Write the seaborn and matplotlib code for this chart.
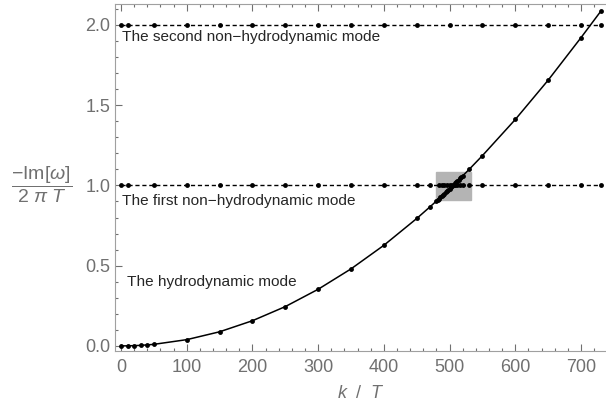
# Modos cuasinormales: -Im[w]/(2 pi T) frente a k/T
import pandas as pd
import seaborn as sns
import matplotlib.pyplot as plt
from matplotlib.patches import Rectangle

# Modo hidrodinamico
k_hydro = [0, 10, 20, 30, 40, 50, 100, 150, 200, 250, 300, 350, 400, 450, 470,
           480, 482, 484, 486, 488, 490, 492, 494, 496, 498, 500,
           502, 504, 506, 508, 510, 512, 514, 516, 518, 520,
           530, 550, 600, 650, 700, 730]
w_hydro = [0.0, 0.0004, 0.0016, 0.0035, 0.0063, 0.0098, 0.039, 0.088, 0.157, 0.245,
           0.353, 0.480, 0.627, 0.794, 0.866,
           0.903, 0.911, 0.918, 0.926, 0.933, 0.941, 0.949, 0.957, 0.964, 0.972, 0.980,
           0.988, 0.996, 1.004, 1.012, 1.020, 1.028, 1.036, 1.044, 1.052, 1.060,
           1.101, 1.186, 1.411, 1.656, 1.921, 2.085]

# Primer modo no hidrodinamico
k_first = [0, 10, 50, 100, 150, 200, 250, 300, 350, 400, 450, 470,
           484, 488, 492, 496, 500, 504, 508, 512, 516, 520,
           530, 550, 600, 650, 700, 730]
w_first = [1.0, 1.0, 1.0, 1.0, 1.0, 1.0, 1.0, 1.0, 1.0, 1.0, 1.0, 1.0,
           1.0, 1.0, 1.0, 1.0, 1.0, 1.0, 1.0, 1.0, 1.0, 1.0,
           1.0, 1.0, 1.0, 1.0, 1.0, 1.0]

# Segundo modo no hidrodinamico
k_second = [0, 10, 50, 100, 150, 200, 250, 300, 350, 400, 450, 500,
            550, 600, 650, 700, 730]
w_second = [2.0, 2.0, 2.0, 2.0, 2.0, 2.0, 2.0, 2.0, 2.0, 2.0, 2.0, 2.0,
            2.0, 2.0, 2.0, 2.0, 2.0]

hydro = pd.DataFrame({'k': k_hydro, 'w': w_hydro})
first = pd.DataFrame({'k': k_first, 'w': w_first})
second = pd.DataFrame({'k': k_second, 'w': w_second})

sns.set_style('ticks')
plt.rcParams['font.family'] = ['Liberation Sans', 'DejaVu Sans']
plt.rcParams['mathtext.fontset'] = 'custom'
plt.rcParams['mathtext.rm'] = 'Liberation Sans'
plt.rcParams['mathtext.it'] = 'Liberation Sans:italic'

gris = '#707070'
fig = plt.figure(figsize=(6.06, 4.08), dpi=100)
ax = fig.add_axes([0.19, 0.14, 0.81, 0.85])

# caja gris del cruce
ax.add_patch(Rectangle((480, 0.91), 52, 0.175, color='#b4b4b4', zorder=1))

sns.lineplot(x='k', y='w', data=second, color='black', linewidth=1, ax=ax,
             linestyle=(0, (3, 2)), marker='o', markersize=3.5, markeredgewidth=0, zorder=3)
sns.lineplot(x='k', y='w', data=first, color='black', linewidth=1, ax=ax,
             linestyle=(0, (3, 2)), marker='o', markersize=3.5, markeredgewidth=0, zorder=3)
sns.lineplot(x='k', y='w', data=hydro, color='black', linewidth=1.1, ax=ax,
             marker='o', markersize=3.5, markeredgewidth=0, zorder=4)

ax.text(2, 1.925, 'The second non\u2212hydrodynamic mode', fontsize=11.1, va='center')
ax.text(2, 0.90, 'The first non\u2212hydrodynamic mode', fontsize=11.1, va='center')
ax.text(9, 0.40, 'The hydrodynamic mode', fontsize=11.1, va='center')

ax.set_xlim(-9, 738)
ax.set_ylim(-0.031, 2.13)
ax.set_xticks([0, 100, 200, 300, 400, 500, 600, 700])
ax.set_xticks(range(0, 740, 20), minor=True)
ax.set_yticks([0.0, 0.5, 1.0, 1.5, 2.0])
ax.set_yticklabels(['0.0', '0.5', '1.0', '1.5', '2.0'])
ax.set_yticks([i / 10 for i in range(0, 22)], minor=True)
ax.tick_params(which='both', direction='in', top=True, right=False, colors=gris,
               labelsize=13, width=0.8)
ax.tick_params(which='major', length=5)
ax.tick_params(which='minor', length=2.5)
ax.tick_params(axis='x', which='major', pad=6)
for s in ['left', 'bottom', 'top']:
    ax.spines[s].set_color('#a0a0a0')
ax.spines['right'].set_visible(False)

ax.set_xlabel(r'$k\ \ /\ \ T$', fontsize=13, color=gris, labelpad=6)
ax.set_ylabel(r'$\dfrac{-\mathrm{Im}[\omega]}{2\ \pi\ T}$', fontsize=14, color=gris,
              rotation=0, va='center', ha='center')
ax.yaxis.set_label_coords(-0.149, 0.478)

plt.savefig('out.png', dpi=100)
